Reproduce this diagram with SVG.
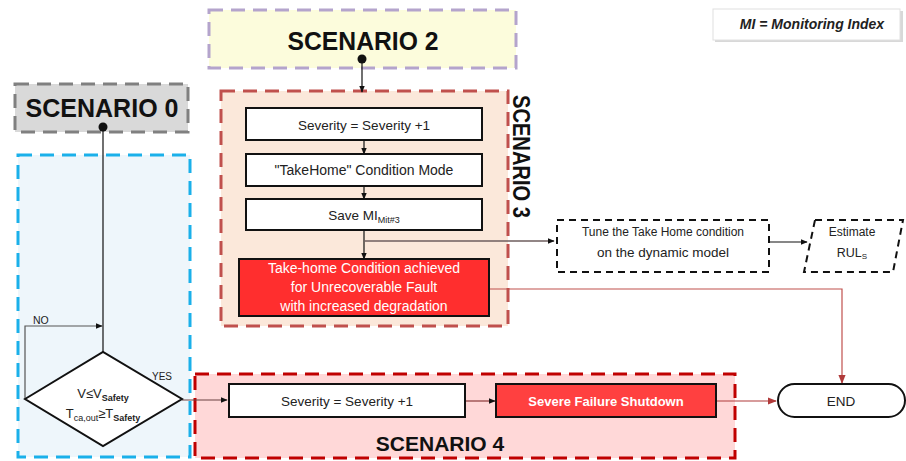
<svg xmlns="http://www.w3.org/2000/svg" width="906" height="461" viewBox="0 0 906 461">
  <style>
    .t { font-family: "Liberation Sans", Arial, sans-serif; fill: #222; }
    .title { font-weight: bold; fill: #111; }
    .w { fill: #fff; }
    .box { fill: #fff; stroke: #111; stroke-width: 2; }
    .line { fill: none; stroke: #111; stroke-width: 1.2; }
  </style>
  <defs>
    <marker id="ah" viewBox="0 0 10 10" refX="9" refY="5" markerWidth="7" markerHeight="7" orient="auto" markerUnits="userSpaceOnUse">
      <path d="M0,1 L10,5 L0,9 Z" fill="#111"/>
    </marker>
    <marker id="ahr" viewBox="0 0 10 10" refX="9" refY="5" markerWidth="9" markerHeight="9" orient="auto" markerUnits="userSpaceOnUse">
      <path d="M0,1 L10,5 L0,9 Z" fill="#b03a3a"/>
    </marker>
  </defs>

  <!-- scenario containers -->
  <g id="scenario0-area">
    <rect x="18" y="155" width="172" height="302" fill="#eef6fb" stroke="#1ab0ea" stroke-width="3" stroke-dasharray="14,8"/>
  </g>
  <g id="scenario3-area">
    <rect x="221" y="91" width="287" height="235" fill="#fbe8da" stroke="#c0504d" stroke-width="3" stroke-dasharray="14,8"/>
    <text class="t title" transform="translate(513,95) rotate(90)" font-size="24" textLength="123" lengthAdjust="spacingAndGlyphs">SCENARIO 3</text>
  </g>
  <g id="scenario4-area">
    <rect x="195" y="374" width="540" height="84" fill="#ffd8d8" stroke="#c00000" stroke-width="3" stroke-dasharray="14,8"/>
    <text class="t title" x="440" y="451" font-size="21" text-anchor="middle">SCENARIO 4</text>
  </g>

  <!-- scenario headers -->
  <g id="scenario2">
    <rect x="209" y="10" width="307" height="58" fill="#fcfcdc" stroke="#b4a4cc" stroke-width="3" stroke-dasharray="14,8"/>
    <text class="t title" x="363" y="50" font-size="26" text-anchor="middle" textLength="151" lengthAdjust="spacingAndGlyphs">SCENARIO 2</text>
  </g>
  <g id="scenario0">
    <rect x="15" y="84" width="173" height="48" fill="#d9d9d9" stroke="#808080" stroke-width="3" stroke-dasharray="14,8"/>
    <text class="t title" x="102" y="117" font-size="25" text-anchor="middle" textLength="153" lengthAdjust="spacingAndGlyphs">SCENARIO 0</text>
  </g>

  <g id="legend">
    <rect x="715" y="11" width="188" height="31" fill="#d8d8d8"/>
    <rect x="713" y="9" width="187" height="31" fill="#fff" stroke="#e0e0e0" stroke-width="1"/>
    <text class="t" x="812" y="29" font-size="14" font-weight="bold" font-style="italic" text-anchor="middle" fill="#111">MI = Monitoring Index</text>
  </g>

  <!-- connectors -->
  <g id="connectors">
    <circle cx="362" cy="59" r="4.5" fill="#111"/>
    <line class="line" x1="362" y1="59" x2="362" y2="92" marker-end="url(#ah)"/>
    <circle cx="103" cy="127" r="4.5" fill="#111"/>
    <line class="line" x1="103" y1="127" x2="103" y2="352"/>
    <line class="line" x1="364" y1="141" x2="364" y2="154" marker-end="url(#ah)"/>
    <line class="line" x1="364" y1="186" x2="364" y2="199" marker-end="url(#ah)"/>
    <line class="line" x1="364" y1="231" x2="364" y2="259" marker-end="url(#ah)"/>
    <line x1="364" y1="241" x2="554" y2="241" stroke="#6e5e5e" stroke-width="1.3" marker-end="url(#ah)"/>
    <line class="line" x1="769" y1="242" x2="807" y2="242" stroke-width="1.5" marker-end="url(#ah)"/>
    <polyline points="490,289 842,289 842,383" fill="none" stroke="#c0504d" stroke-width="1.2" marker-end="url(#ahr)"/>
    <polyline points="25,399 25,326 102,326" fill="none" stroke="#555" stroke-width="1.2" marker-end="url(#ah)"/>
    <text class="t" x="33" y="324" font-size="10.5">NO</text>
    <text class="t" x="152" y="380" font-size="10">YES</text>
    <line x1="182" y1="400" x2="227" y2="400" stroke="#6b4040" stroke-width="1.2" marker-end="url(#ah)"/>
    <line x1="466" y1="401" x2="495" y2="401" stroke="#8b3a3a" stroke-width="1.2" marker-end="url(#ah)"/>
    <line x1="717" y1="401" x2="776" y2="401" stroke="#b03a3a" stroke-width="1.2" marker-end="url(#ahr)"/>
  </g>

  <!-- scenario 3 steps -->
  <g id="s3-severity">
    <rect class="box" x="246" y="108" width="236" height="32"/>
    <text class="t" x="364" y="130" font-size="13.5" text-anchor="middle">Severity = Severity +1</text>
  </g>
  <g id="s3-takehome">
    <rect class="box" x="246" y="154" width="236" height="32"/>
    <text class="t" x="364" y="175" font-size="14" text-anchor="middle">"TakeHome" Condition Mode</text>
  </g>
  <g id="s3-save">
    <rect class="box" x="246" y="199" width="236" height="31"/>
    <text class="t" x="364" y="220" font-size="13.5" text-anchor="middle">Save MI<tspan font-size="9" dy="3">Mit#3</tspan></text>
  </g>
  <g id="s3-achieved">
    <rect x="239" y="259" width="250" height="57" fill="#ff2e2e" stroke="#111" stroke-width="2"/>
    <text class="t w" x="364" y="273" font-size="14" text-anchor="middle">Take-home Condition achieved</text>
    <text class="t w" x="364" y="292" font-size="14" text-anchor="middle">for Unrecoverable Fault</text>
    <text class="t w" x="364" y="311" font-size="14" text-anchor="middle">with increased degradation</text>
  </g>

  <g id="tune">
    <rect x="557" y="220" width="212" height="52" fill="#fff" stroke="#111" stroke-width="2" stroke-dasharray="7,5"/>
    <text class="t" x="663" y="236" font-size="12" text-anchor="middle">Tune the Take Home condition</text>
    <text class="t" x="663" y="257" font-size="13.5" text-anchor="middle">on the dynamic model</text>
  </g>
  <g id="estimate">
    <polygon points="815,220 903,220 893,272 804,272" fill="#fff" stroke="#111" stroke-width="2" stroke-dasharray="7,5"/>
    <text class="t" x="852" y="236" font-size="12" text-anchor="middle">Estimate</text>
    <text class="t" x="852" y="257" font-size="12.5" text-anchor="middle">RUL<tspan font-size="8" dy="2">S</tspan></text>
  </g>

  <!-- decision -->
  <g id="decision">
    <polygon points="25,399 103,352 182,399 103,446" fill="#fff" stroke="#111" stroke-width="2"/>
    <text class="t" x="103" y="398" font-size="13" text-anchor="middle">V≤V<tspan font-size="9" font-weight="bold" dy="3">Safety</tspan></text>
    <text class="t" x="103" y="418" font-size="13" text-anchor="middle">T<tspan font-size="9" dy="3">ca,out</tspan><tspan dy="-3">≥T</tspan><tspan font-size="9" font-weight="bold" dy="3">Safety</tspan></text>
  </g>

  <!-- scenario 4 steps -->
  <g id="s4-severity">
    <rect class="box" x="229" y="384" width="236" height="33"/>
    <text class="t" x="347" y="406" font-size="13.5" text-anchor="middle">Severity = Severity +1</text>
  </g>
  <g id="s4-shutdown">
    <rect x="496" y="384" width="220" height="33" fill="#ff4040" stroke="#111" stroke-width="2"/>
    <text class="t w" x="606" y="406" font-size="13" font-weight="bold" text-anchor="middle">Severe Failure Shutdown</text>
  </g>
  <g id="end">
    <rect x="778" y="384" width="127" height="33" rx="16.5" ry="16.5" fill="#fff" stroke="#111" stroke-width="2"/>
    <text class="t" x="841" y="406" font-size="13.5" text-anchor="middle">END</text>
  </g>
</svg>
